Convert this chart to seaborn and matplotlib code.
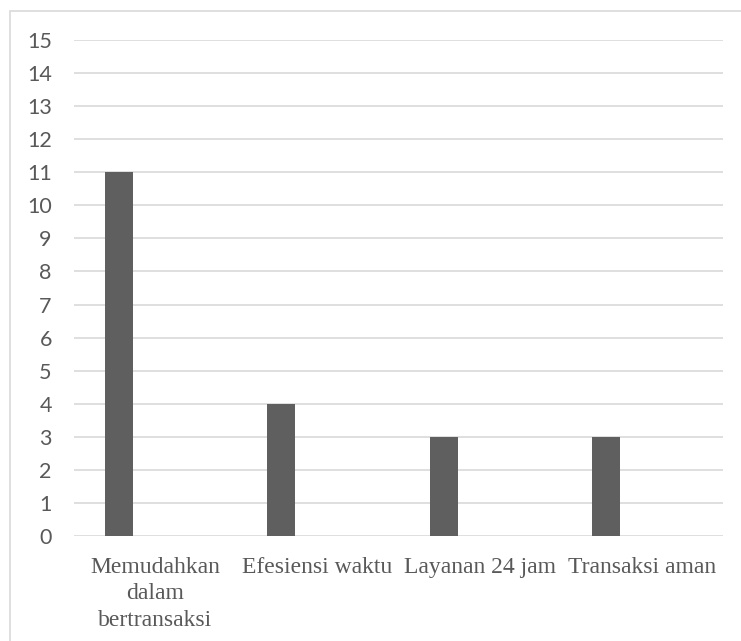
import matplotlib
matplotlib.use("Agg")
import matplotlib.pyplot as plt
from matplotlib.patches import Rectangle
import seaborn as sns
import pandas as pd

categories = ["Memudahkan\ndalam\nbertransaksi", "Efesiensi waktu", "Layanan 24 jam", "Transaksi aman"]
values = [11, 4, 3, 3]
y_ticks = list(range(0, 16))

sns.set_style("white")

df = pd.DataFrame({"kategori": categories, "jumlah": values})

fig = plt.figure(figsize=(7.41, 6.41), dpi=100)
ax = fig.add_axes([74 / 741, 1 - 536 / 641, (723 - 74) / 741, (536 - 40) / 641])

sns.barplot(data=df, x="kategori", y="jumlah", color="#5f5f5f", saturation=1,
            width=0.173, ax=ax, edgecolor="none")

# bars sit left of the category centre, as in a two-series column layout
for p in ax.patches:
    p.set_x(p.get_x() - 0.222)

ax.set_xlim(-0.5, len(categories) - 0.5)
ax.set_ylim(0, 15)
ax.set_yticks(y_ticks)
ax.set_yticklabels([str(t) for t in y_ticks], family="Lato", fontsize=15.5, color="#595959")
ax.set_xticks(range(len(categories)))
ax.set_xticklabels(categories, family="Liberation Serif", fontsize=17, color="#595959",
                   linespacing=1.35, va="top")
ax.tick_params(axis="both", length=0)
ax.tick_params(axis="y", pad=16)
ax.tick_params(axis="x", pad=15)
ax.set_xlabel("")
ax.set_ylabel("")

ax.yaxis.grid(True, color="#d9d9d9", linewidth=1.2)
ax.set_axisbelow(True)
for s in ax.spines.values():
    s.set_visible(False)

# light outer chart frame
fig.patches.append(Rectangle((9.5 / 741, -0.1), 1.2, 1 - 11 / 641 + 0.1,
                             transform=fig.transFigure, fill=False,
                             edgecolor="#d9d9d9", linewidth=1.2))

fig.savefig("out.png", dpi=100, facecolor="white")
